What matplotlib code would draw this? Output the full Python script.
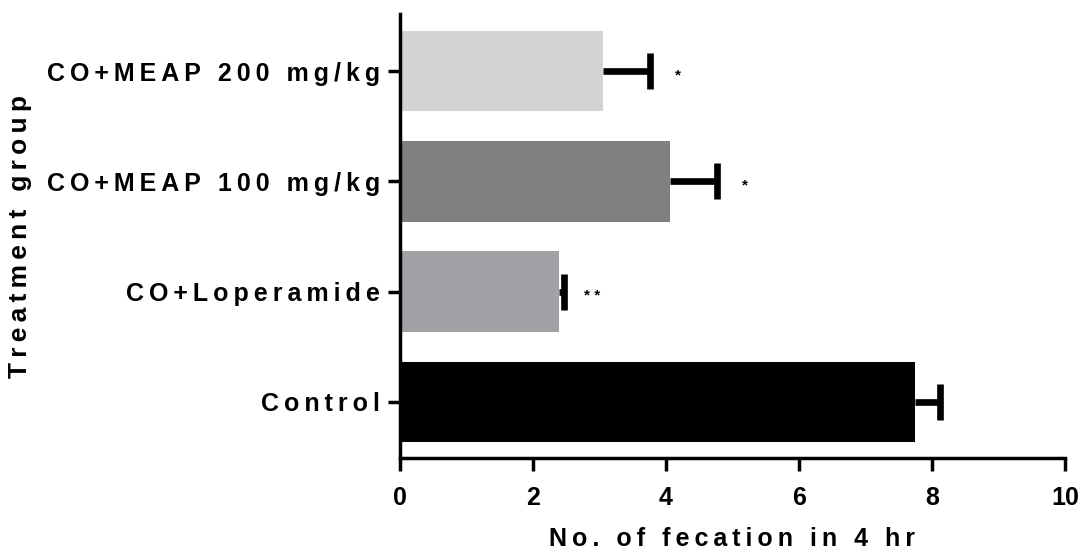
import numpy as np
import matplotlib.pyplot as plt

# data (bottom to top)
groups = ["Control", "CO+Loperamide", "CO+MEAP 100 mg/kg", "CO+MEAP 200 mg/kg"]
means = [7.75, 2.39, 4.06, 3.05]
errs = [0.37, 0.08, 0.71, 0.71]
marks = ["", "* *", "*", "*"]
colors = ["#000000", "#a2a2a6", "#808080", "#d3d3d3"]
xticks = [0, 2, 4, 6, 8, 10]


def spaced(s):
    # mimic the wide letter spacing of the original figure
    return "\u2009".join(s)


def main():
    plt.rcParams["font.family"] = ["Liberation Sans", "DejaVu Sans"]
    plt.rcParams["font.weight"] = "bold"

    fig = plt.figure(figsize=(10.8, 5.56), dpi=100)
    ax = fig.add_axes([0.370, 0.176, 0.616, 0.799])

    y = np.arange(len(groups))
    ax.barh(y, means, height=0.73, color=colors, zorder=2)
    _, caps, _ = ax.errorbar(means, y, xerr=[np.zeros(len(errs)), errs], fmt="none",
                             ecolor="black", elinewidth=4.8, capsize=13.3,
                             capthick=4.8, zorder=3)
    # one-sided bars: drop the cap at the bar end
    caps[0].remove()

    for yi, m, e, t in zip(y, means, errs, marks):
        if t:
            ax.annotate(t, (m + e, yi), xytext=(20, -3), textcoords="offset points",
                        ha="center", va="center", fontsize=11)

    ax.set_xlim(0, 10)
    ax.set_ylim(-0.51, 3.52)
    ax.set_xticks(xticks)
    ax.set_xticklabels([str(v) for v in xticks], fontsize=18, fontweight="bold")
    ax.set_yticks(y)
    ax.set_yticklabels([spaced(g) for g in groups], fontsize=18, fontweight="bold")

    for side in ["top", "right"]:
        ax.spines[side].set_visible(False)
    for side in ["left", "bottom"]:
        ax.spines[side].set_linewidth(2.5)
    ax.tick_params(axis="both", width=2.5, length=9)
    ax.tick_params(axis="x", pad=11)
    ax.tick_params(axis="y", pad=5)

    ax.set_xlabel(spaced("No. of fecation in 4 hr"), fontsize=18, fontweight="bold",
                  labelpad=12)
    ax.set_ylabel(spaced("Treatment group"), fontsize=19, fontweight="bold",
                  labelpad=11)

    fig.savefig("out.png", dpi=100)


if __name__ == "__main__":
    main()
